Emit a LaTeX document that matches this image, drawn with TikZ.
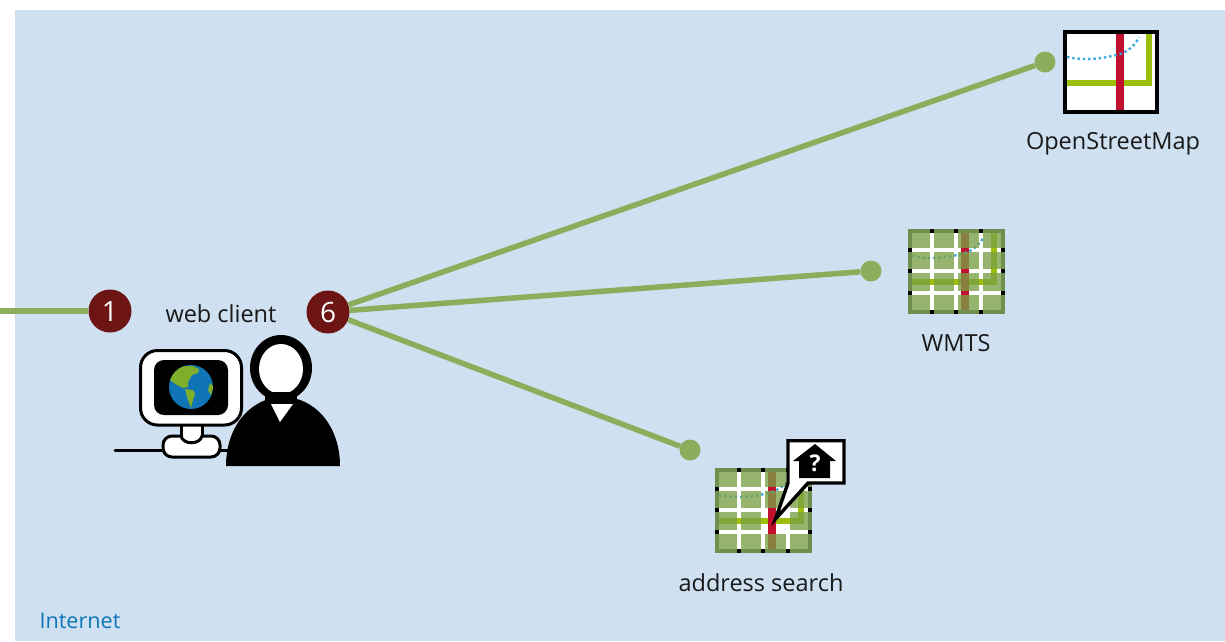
\documentclass[tikz,border=0pt]{standalone}
\usepackage{fontspec}
\setmainfont{Open Sans}
\definecolor{panel}{HTML}{CFE0F0}
\definecolor{linkgreen}{HTML}{8BAD5C}
\definecolor{badge}{HTML}{6D1414}
\definecolor{roadred}{HTML}{C1112F}
\definecolor{roadgreen}{HTML}{9CBF0A}
\definecolor{dotblue}{HTML}{36A9E0}
\definecolor{tilegreen}{HTML}{7AA046}
\definecolor{tileedge}{HTML}{6F8F4E}
\definecolor{netblue}{HTML}{0F75B5}
\definecolor{landgreen}{HTML}{7FAE2A}
\tikzset{
  x=1pt,y=-1pt,
  link/.style={draw=linkgreen,line width=5.5pt},
  enddot/.style={circle,fill=linkgreen,minimum size=21pt,inner sep=0pt},
  numbadge/.style={circle,fill=badge,text=white,minimum size=43pt,inner sep=0pt,font=\fontsize{28}{28}\selectfont},
  lab/.style={font=\fontsize{23.5}{26}\selectfont,text=black!90,inner sep=0pt},
  tileover/.style={fill=tilegreen,opacity=.78},
  mapbase/.pic={
    \fill[white] (0,0) rectangle (96,84);
    \fill[roadgreen] (3,50) rectangle (89,56);
    \fill[roadgreen] (83,3) rectangle (89,56);
    \fill[roadred] (53,3) rectangle (61,81);
    \draw[dotblue,line width=2.4pt,dash pattern=on 2.4pt off 2.9pt] (4,27) .. controls (18,30) and (36,30) .. (57,24) .. controls (66,21) and (73,14) .. (76,7);
  },
  tilegrid/.pic={
    \foreach \xx in {24,48,73} {\fill[black] (\xx-2,0) rectangle (\xx+2,4); \fill[black] (\xx-2,81) rectangle (\xx+2,85);}
    \foreach \yy in {21,42,64} {\fill[black] (0,\yy-2) rectangle (4,\yy+2); \fill[black] (93,\yy-2) rectangle (97,\yy+2);}
  },
  tileframe/.pic={
    \draw[tileedge,line width=4pt] (2,2) -- (22.3,2) (25.7,2) -- (46.3,2) (49.7,2) -- (71.3,2) (74.7,2) -- (95,2)
    (2,83) -- (22.3,83) (25.7,83) -- (46.3,83) (49.7,83) -- (71.3,83) (74.7,83) -- (95,83)
    (2,0) -- (2,19.3) (2,22.7) -- (2,40.3) (2,43.7) -- (2,62.3) (2,65.7) -- (2,85)
    (95,0) -- (95,19.3) (95,22.7) -- (95,40.3) (95,43.7) -- (95,62.3) (95,65.7) -- (95,85);
  },
}
\begin{document}
\begin{tikzpicture}
\useasboundingbox (0,0) rectangle (1225,641);
\fill[panel] (15,10) rectangle (1225,641);

% OpenStreetMap icon
\pic at (1063,30) {mapbase};
\draw[black,line width=4pt] (1065,32) rectangle (1157,112);

% WMTS tile
\begin{scope}[shift={(908,229)}]
  \pic at (0,0) {mapbase};
  \pic at (0,0) {tilegrid};
  \foreach \xa/\xb in {0/22.3,25.7/46.3,49.7/71.3,74.7/97}
    \foreach \ya/\yb in {0/19.3,22.7/40.3,43.7/62.3,65.7/85}
      {\fill[tileover] (\xa,\ya) rectangle (\xb,\yb);}
  \pic at (0,0) {tileframe};
\end{scope}

% address search tile
\begin{scope}[shift={(715,468)}]
  \pic at (0,0) {mapbase};
  \pic at (0,0) {tilegrid};
  \foreach \xa/\xb in {0/22.3,25.7/46.3,74.7/97}
    \foreach \ya/\yb in {0/19.3,22.7/40.3,43.7/62.3,65.7/85}
      {\fill[tileover] (\xa,\ya) rectangle (\xb,\yb);}
  \foreach \ya/\yb in {0/19.3,22.7/40.3,65.7/85}
      {\fill[tileover] (49.7,\ya) rectangle (71.3,\yb);}
  \pic at (0,0) {tileframe};
\end{scope}

% callout
\draw[black,fill=white,line width=3.4pt,line join=miter,miter limit=6]
  (788,440.7) -- (844,440.7) -- (844,483) -- (808,483) -- (775.5,519) -- (788,483) -- cycle;
\fill[black] (815,444) -- (836,461) -- (830,461) -- (830,478) -- (799,478) -- (799,461) -- (793,461) -- cycle;
\node[text=white,inner sep=0pt,font=\fontsize{23}{23}\selectfont\bfseries] at (815,463) {?};

% computer
\draw[black,line width=3pt,line cap=round] (115,450) -- (228,450);
\draw[black,fill=white,line width=3pt] (181,424) rectangle (202,444);
\draw[black,fill=white,line width=3pt,rounded corners=9pt] (163,436) rectangle (220,457);
\fill[white] (182.5,430) rectangle (200.5,442);
\draw[black,line width=3pt] (181,436) .. controls (183,445) and (200,445) .. (202,436);
\draw[black,fill=white,line width=3pt,rounded corners=17pt] (140.5,350.5) rectangle (241.5,425);
\fill[black,rounded corners=10pt] (154,360) rectangle (228,415);
\fill[netblue] (191,387) circle (22);
\begin{scope}
  \clip (191,387) circle (22);
  \fill[landgreen] (170,380) -- (175,370) -- (183,366) -- (193,366) -- (199,369) -- (198,373) -- (192,375) -- (188,382) -- (188,387) -- (183,388) -- (177,385) -- cycle;
  \fill[landgreen] (185,389) -- (193,390) -- (195,394) -- (193,400) -- (191,408) -- (188,400) -- cycle;
  \fill[landgreen] (210,383) -- (214,387) -- (211,395) -- (208,390) -- cycle;
\end{scope}

% person
\fill[black] (226,466) .. controls (226,425) and (252,397) .. (283,397) .. controls (314,397) and (340,425) .. (340,466) -- cycle;
\fill[black] (281,368) ellipse [x radius=31, y radius=33];
\fill[white] (281,369) ellipse [x radius=22, y radius=25];
\fill[black] (265,392) rectangle (297,402);
\fill[white] (271,404) -- (293,404) -- (280,422) -- cycle;

% labels
\node[lab] (lweb) at (221,314) {web client};
\node[lab] (lwmts) at (956,343) {WMTS};
\node[lab] (losm) at (1113,144) {OpenStreetMap};
\node[lab] (laddr) at (761,583) {address search};
\node[lab,text=netblue,font=\fontsize{21.6}{26}\selectfont] (lnet) at (80,621) {Internet};

% connectors
\coordinate (west) at (0,311);
\node[enddot] (osm) at (1045,62) {};
\node[enddot] (wmts) at (871,271) {};
\node[enddot] (addr) at (690,450) {};
\node[numbadge] (one) at (110,311) {1};
\node[numbadge] (six) at (328,312) {6};
\draw[link] (west) -- (one);
\draw[link] (six) -- (osm);
\draw[link] (six) -- (wmts);
\draw[link] (six) -- (addr);
\end{tikzpicture}
\end{document}
